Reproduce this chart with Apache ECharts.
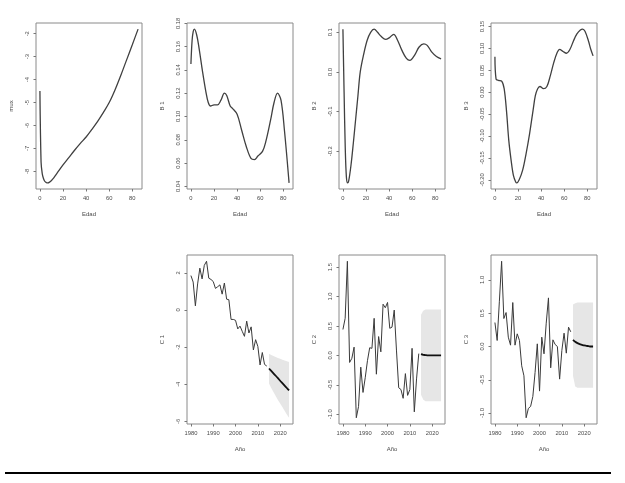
<!DOCTYPE html>
<html><head><meta charset="utf-8">
<script src="https://cdn.jsdelivr.net/npm/echarts@6/dist/echarts.min.js"></script>
<style>html,body{margin:0;padding:0;background:#fff}#c{width:625px;height:483px}</style>
</head><body><div id="c"></div>
<script>
// ---- Age-profile data ----
const agesMux = [0,1,2,3,4,5,6,7,8,10,12,15,20,25,30,35,40,45,50,55,60,65,70,75,80,85];
const mux = [-4.5,-7.6,-8.1,-8.3,-8.42,-8.47,-8.5,-8.5,-8.48,-8.4,-8.28,-8.07,-7.72,-7.4,-7.08,-6.78,-6.5,-6.17,-5.82,-5.43,-5.0,-4.45,-3.82,-3.15,-2.48,-1.8];

const agesB1 = [0,1,2,3,5,7,10,13,15,17,20,23,26,29,31,34,36,40,44,48,52,55,58,62,65,69,72,75,78,81,85];
const b1 = [0.145,0.165,0.173,0.175,0.170,0.159,0.139,0.121,0.112,0.109,0.110,0.110,0.114,0.120,0.118,0.109,0.107,0.102,0.088,0.074,0.064,0.063,0.066,0.070,0.079,0.097,0.112,0.120,0.114,0.088,0.043];

const agesB2 = [0,1,2,3,4,5,7,9,11,13,15,18,21,24,27,30,33,37,40,44,47,51,55,58,62,66,70,73,77,81,85];
const b2 = [0.108,-0.05,-0.19,-0.265,-0.28,-0.275,-0.235,-0.18,-0.12,-0.06,0.0,0.045,0.08,0.10,0.108,0.10,0.09,0.082,0.086,0.095,0.082,0.055,0.034,0.029,0.042,0.063,0.071,0.067,0.05,0.039,0.033];

const agesB3 = [0,1,3,6,8,10,12,14,16,18,19,21,24,27,30,33,35,37,39,42,45,48,51,54,56,59,62,65,68,71,74,76,78,81,83,85];
const b3 = [0.081,0.030,0.027,0.025,0.008,-0.042,-0.11,-0.155,-0.19,-0.205,-0.207,-0.20,-0.178,-0.14,-0.095,-0.042,-0.008,0.008,0.013,0.008,0.013,0.038,0.068,0.091,0.098,0.093,0.089,0.098,0.117,0.133,0.142,0.144,0.139,0.117,0.098,0.083];

// ---- Time-index data ----
const yearsObs = [1980,1981,1982,1983,1984,1985,1986,1987,1988,1989,1990,1991,1992,1993,1994,1995,1996,1997,1998,1999,2000,2001,2002,2003,2004,2005,2006,2007,2008,2009,2010,2011,2012,2013,2014];
const yearsFc = [2015,2016,2017,2018,2019,2020,2021,2022,2023,2024];

const c1 = [1.85,1.5,0.22,1.4,2.25,1.67,2.4,2.62,1.71,1.64,1.53,1.16,1.25,1.35,0.85,1.45,0.58,0.55,-0.51,-0.51,-0.56,-1.02,-0.87,-1.15,-1.42,-0.6,-1.24,-0.91,-2.15,-1.6,-1.96,-2.96,-2.29,-2.93,-3.02];
const c1Fc = [-3.15,-3.28,-3.41,-3.54,-3.67,-3.81,-3.94,-4.07,-4.2,-4.33];
const c1Up = [-2.36,-2.42,-2.48,-2.53,-2.58,-2.63,-2.68,-2.72,-2.76,-2.80];
const c1Lo = [-3.96,-4.2,-4.42,-4.63,-4.84,-5.03,-5.22,-5.42,-5.62,-5.8];

const c2 = [0.44,0.63,1.6,-0.12,-0.05,0.14,-1.06,-0.87,-0.2,-0.63,-0.38,-0.09,0.13,0.12,0.63,-0.32,0.32,0.06,0.87,0.81,0.9,0.46,0.48,0.77,0.09,-0.55,-0.58,-0.73,-0.31,-0.68,-0.58,0.12,-0.96,-0.4,0.03];
const c2Fc = [0.02,0.01,0.005,0.0,0.0,0.0,0.0,0.0,0.0,0.0];
const c2Up = [0.69,0.76,0.78,0.78,0.78,0.78,0.78,0.78,0.78,0.78];
const c2Lo = [-0.67,-0.75,-0.78,-0.78,-0.78,-0.78,-0.78,-0.78,-0.78,-0.78];

const c3 = [0.36,0.09,0.68,1.28,0.42,0.51,0.14,0.02,0.66,0.02,0.19,0.09,-0.29,-0.44,-1.07,-0.93,-0.9,-0.75,-0.39,0.04,-0.67,0.14,-0.11,0.35,0.73,-0.32,0.1,0.03,0.0,-0.49,-0.06,0.2,-0.1,0.29,0.22];
const c3Fc = [0.10,0.07,0.05,0.035,0.025,0.015,0.01,0.005,0.0,0.0];
const c3Up = [0.63,0.65,0.66,0.66,0.66,0.66,0.66,0.66,0.66,0.66];
const c3Lo = [-0.44,-0.6,-0.62,-0.62,-0.62,-0.62,-0.62,-0.62,-0.62,-0.62];

// ---- Tick labels ----
const ageTicks = ["0","20","40","60","80"];
const yearTicks = ["1980","1990","2000","2010","2020"];
const muxTicks = ["-8","-7","-6","-5","-4","-3","-2"];
const b1Ticks = ["0.04","0.06","0.08","0.10","0.12","0.14","0.16","0.18"];
const b2Ticks = ["-0.2","-0.1","0.0","0.1"];
const b3Ticks = ["-0.20","-0.15","-0.10","-0.05","0.00","0.05","0.10","0.15"];
const c1Ticks = ["-6","-4","-2","0","2"];
const c2Ticks = ["-1.0","-0.5","0.0","0.5","1.0","1.5"];
const c3Ticks = ["-1.0","-0.5","0.0","0.5","1.0"];

// ---- helpers ----
function padRange(arrs){
  let mn=Infinity,mx=-Infinity;
  arrs.forEach(a=>a.forEach(v=>{if(v<mn)mn=v;if(v>mx)mx=v;}));
  const r=mx-mn; return [mn-0.04*r, mx+0.04*r];
}
const FONT='Liberation Sans, Arial, sans-serif';
const TXT='#4a4a4a';
function axis(gi, ticks, range, name, isY){
  const vals = ticks.map(Number);
  const a = {
    type:'value', gridIndex:gi, min:range[0], max:range[1],
    splitLine:{show:false}, axisLine:{show:false, onZero:false},
    axisTick:{show:true, customValues:vals, length:2.5, lineStyle:{color:'#777',width:1}},
    axisLabel:{customValues:vals, fontSize:5.8, color:TXT, fontFamily:FONT, margin:isY?6:6,
      formatter:(v)=>{const i=vals.findIndex(x=>Math.abs(x-v)<1e-9);return i>=0?ticks[i]:'';}},
    name:name, nameLocation:'middle', nameGap:isY?22:22,
    nameTextStyle:{fontSize:6, color:TXT, fontFamily:FONT}
  };
  if(isY){ a.axisLabel.rotate=90; }
  return a;
}
const pair=(xs,ys)=>xs.map((x,i)=>[x,ys[i]]);

const L=[36,187,339,491], W=106;
const grids=[
  {left:L[0],top:23,width:W,height:166},
  {left:L[1],top:23,width:W,height:166},
  {left:L[2],top:23,width:W,height:166},
  {left:L[3],top:23,width:W,height:166},
  {left:L[1],top:255,width:W,height:169},
  {left:L[2],top:255,width:W,height:169},
  {left:L[3],top:255,width:W,height:169}
].map(g=>Object.assign(g,{show:true,borderColor:'#8a8a8a',borderWidth:1,backgroundColor:'transparent'}));

const ageRange=padRange([[0,85]]);
const yearRange=padRange([[1980,2024]]);
const xAxes=[
  axis(0,ageTicks,ageRange,'Edad',false),
  axis(1,ageTicks,ageRange,'Edad',false),
  axis(2,ageTicks,ageRange,'Edad',false),
  axis(3,ageTicks,ageRange,'Edad',false),
  axis(4,yearTicks,yearRange,'Año',false),
  axis(5,yearTicks,yearRange,'Año',false),
  axis(6,yearTicks,yearRange,'Año',false)
];
const yAxes=[
  axis(0,muxTicks,padRange([mux]),'mux',true),
  axis(1,b1Ticks,padRange([b1]),'B 1',true),
  axis(2,b2Ticks,padRange([b2]),'B 2',true),
  axis(3,b3Ticks,padRange([b3]),'B 3',true),
  axis(4,c1Ticks,padRange([c1,c1Up,c1Lo]),'C 1',true),
  axis(5,c2Ticks,padRange([c2,c2Up,c2Lo]),'C 2',true),
  axis(6,c3Ticks,padRange([c3,c3Up,c3Lo]),'C 3',true)
];

const curveStyle={color:'#404040',width:1.3};
function curve(gi,xs,ys){
  return {type:'line',xAxisIndex:gi,yAxisIndex:gi,data:pair(xs,ys),showSymbol:false,symbol:'none',
    smooth:0.35,lineStyle:curveStyle,silent:true,animation:false};
}
function band(gi,lo,up){
  const rows=yearsFc.map((y,i)=>[y,lo[i],up[i]]);
  return {type:'custom',xAxisIndex:gi,yAxisIndex:gi,data:rows,encode:{x:0,y:[1,2]},silent:true,animation:false,z:1,
    renderItem:function(params,api){
      if(params.dataIndex!==0) return null;
      const pts=[];
      for(let i=0;i<rows.length;i++) pts.push(api.coord([rows[i][0],rows[i][2]]));
      for(let i=rows.length-1;i>=0;i--) pts.push(api.coord([rows[i][0],rows[i][1]]));
      return {type:'polygon',shape:{points:pts},style:{fill:'#e6e6e6',stroke:null}};
    }};
}
function obs(gi,ys){
  return {type:'line',xAxisIndex:gi,yAxisIndex:gi,data:pair(yearsObs,ys),symbol:'none',
    lineStyle:{color:'#3a3a3a',width:1},silent:true,animation:false,z:3};
}
function fc(gi,ys){
  return {type:'line',xAxisIndex:gi,yAxisIndex:gi,data:pair(yearsFc,ys),symbol:'none',smooth:0.3,
    lineStyle:{color:'#111',width:1.8},silent:true,animation:false,z:4};
}

const series=[
  curve(0,agesMux,mux),
  curve(1,agesB1,b1),
  curve(2,agesB2,b2),
  curve(3,agesB3,b3),
  band(4,c1Lo,c1Up), obs(4,c1), fc(4,c1Fc),
  band(5,c2Lo,c2Up), obs(5,c2), fc(5,c2Fc),
  band(6,c3Lo,c3Up), obs(6,c3), fc(6,c3Fc)
];

const chart=echarts.init(document.getElementById('c'),null,{renderer:'canvas'});
chart.setOption({
  animation:false,
  backgroundColor:'#fff',
  textStyle:{fontFamily:FONT},
  grid:grids, xAxis:xAxes, yAxis:yAxes, series:series,
  graphic:[{type:'line',shape:{x1:5,y1:473,x2:611,y2:473},style:{stroke:'#000',lineWidth:2},silent:true}]
});
</script>
</body></html>
